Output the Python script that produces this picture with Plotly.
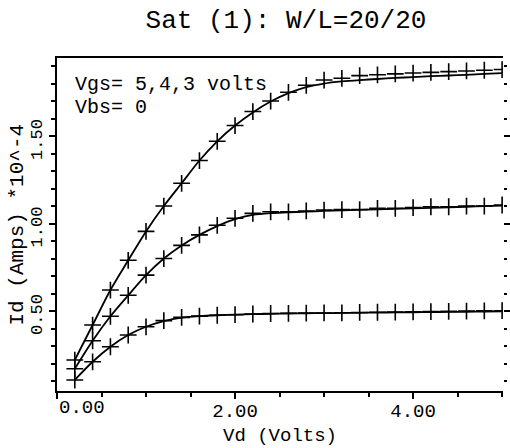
import plotly.graph_objects as go

# ---- data ----
vd = [0.2, 0.4, 0.6, 0.8, 1.0, 1.2, 1.4, 1.6, 1.8, 2.0, 2.2, 2.4, 2.6,
      2.8, 3.0, 3.2, 3.4, 3.6, 3.8, 4.0, 4.2, 4.4, 4.6, 4.8, 5.0]

# measured (crosses), Id in units of 1e-4 A
id_meas_vgs5 = [0.22, 0.42, 0.62, 0.79, 0.955, 1.10, 1.23, 1.36, 1.47, 1.56,
                1.64, 1.70, 1.75, 1.79, 1.82, 1.83, 1.845, 1.85, 1.855, 1.86,
                1.864, 1.868, 1.872, 1.876, 1.88]
id_meas_vgs4 = [0.17, 0.33, 0.47, 0.59, 0.705, 0.80, 0.875, 0.935, 0.99, 1.03,
                1.058, 1.067, 1.067, 1.072, 1.077, 1.080, 1.080, 1.087, 1.087,
                1.091, 1.096, 1.096, 1.100, 1.100, 1.106]
id_meas_vgs3 = [0.106, 0.21, 0.296, 0.363, 0.41, 0.445, 0.464, 0.471, 0.476,
                0.479, 0.483, 0.486, 0.487, 0.488, 0.489, 0.490, 0.492, 0.493,
                0.494, 0.495, 0.497, 0.498, 0.500, 0.501, 0.502]

# model (solid lines)
id_model_vgs5 = [0.22, 0.42, 0.62, 0.79, 0.955, 1.10, 1.23, 1.36, 1.47, 1.56,
                 1.635, 1.697, 1.745, 1.78, 1.80, 1.812, 1.82, 1.826, 1.832,
                 1.837, 1.842, 1.846, 1.85, 1.855, 1.86]
id_model_vgs4 = [0.17, 0.33, 0.47, 0.59, 0.705, 0.80, 0.875, 0.935, 0.985,
                 1.025, 1.05, 1.06, 1.064, 1.068, 1.072, 1.075, 1.078, 1.081,
                 1.084, 1.087, 1.090, 1.093, 1.096, 1.099, 1.102]
id_model_vgs3 = [0.106, 0.21, 0.296, 0.363, 0.41, 0.442, 0.462, 0.471, 0.476,
                 0.479, 0.482, 0.484, 0.486, 0.487, 0.488, 0.489, 0.490, 0.491,
                 0.492, 0.493, 0.494, 0.495, 0.496, 0.497, 0.498]

x_tick_vals = [0, 2, 4]
x_tick_text = ["0.00", "2.00", "4.00"]
y_tick_vals = [0.5, 1.0, 1.5]
y_tick_text = ["0.50", "1.00", "1.50"]

title_text = "Sat (1): W/L=20/20"
x_title = "Vd (Volts)"
y_title = "Id (Amps) *10^-4"
note_lines = ["Vgs= 5,4,3 volts", "Vbs= 0"]

X_RANGE = [0, 5.01]
Y_RANGE = [0.043, 1.946]

FONT = "Liberation Mono, Courier New, monospace"

fig = go.Figure()
for ym in (id_model_vgs5, id_model_vgs4, id_model_vgs3):
    fig.add_trace(go.Scatter(x=vd, y=ym, mode="lines",
                             line=dict(color="black", width=1.8, shape="spline", smoothing=0.8),
                             showlegend=False, hoverinfo="skip"))
for ymeas in (id_meas_vgs5, id_meas_vgs4, id_meas_vgs3):
    fig.add_trace(go.Scatter(x=vd, y=ymeas, mode="markers",
                             marker=dict(symbol="cross-thin-open", size=12, color="black",
                                         line=dict(color="black", width=1.6)),
                             showlegend=False))
# empty trace so the right-hand tick axis is drawn
fig.add_trace(go.Scatter(x=[], y=[], yaxis="y2", showlegend=False, hoverinfo="skip"))

fig.update_layout(
    width=510, height=448,
    margin=dict(l=57, r=7, t=58, b=57, autoexpand=False),
    paper_bgcolor="white", plot_bgcolor="white",
    font=dict(family=FONT, color="black"),
    title=dict(text=title_text, x=286 / 510, xanchor="center",
               y=1 - 19 / 448, yanchor="middle",
               font=dict(family=FONT, size=26, color="black")),
    xaxis=dict(range=X_RANGE, showgrid=False, zeroline=False, automargin=False,
               showline=True, linewidth=2, linecolor="black",
               mirror=True,
               ticks="outside", ticklen=6, tickwidth=1.5, tickcolor="black",
               tickvals=x_tick_vals,
               ticktext=[""] + x_tick_text[1:],
               ticklabelstandoff=-5,
               tickfont=dict(family=FONT, size=19, color="black"),
               minor=dict(ticks="outside", ticklen=4, tickwidth=1.5,
                          tickcolor="black", dtick=0.5, tick0=0, showgrid=False)),
    yaxis=dict(range=Y_RANGE, showgrid=False, zeroline=False, automargin=False,
               showline=True, linewidth=2, linecolor="black",
               ticks="outside", ticklen=6, tickwidth=1.5, tickcolor="black",
               tickvals=y_tick_vals, ticktext=y_tick_text,
               tickangle=-90, ticklabelshift=6,
               tickfont=dict(family=FONT, size=17, color="black"),
               minor=dict(ticks="outside", ticklen=4, tickwidth=1.5,
                          tickcolor="black", dtick=0.1, tick0=0, showgrid=False)),
    yaxis2=dict(range=Y_RANGE, overlaying="y", side="right", showgrid=False,
                zeroline=False, showline=False, showticklabels=False, automargin=False,
                ticks="outside", ticklen=6, tickwidth=1.5, tickcolor="black",
                tickvals=y_tick_vals,
                minor=dict(ticks="outside", ticklen=3, tickwidth=1.5,
                           tickcolor="black", dtick=0.1, tick0=0, showgrid=False)),
)

# first x tick label, left-aligned at the axis origin
fig.add_annotation(x=x_tick_vals[0], y=0, xref="x", yref="paper",
                   text=x_tick_text[0], showarrow=False, xanchor="left",
                   yanchor="top", yshift=-4,
                   font=dict(family=FONT, size=19, color="black"))

# axis titles
fig.add_annotation(x=0.5, y=(391 - 436) / 333, xref="paper", yref="paper",
                   text=x_title, showarrow=False, xanchor="center", yanchor="middle",
                   font=dict(family=FONT, size=19, color="black"))
fig.add_annotation(x=(17 - 57) / 446, y=0.5, xref="paper", yref="paper",
                   text=y_title, showarrow=False, textangle=-90,
                   xanchor="center", yanchor="middle",
                   font=dict(family=FONT, size=21, color="black"))

# note text
for i, line in enumerate(note_lines):
    fig.add_annotation(x=(73 - 57) / 446, y=(391 - (84 + 24 * i)) / 333,
                       xref="paper", yref="paper", text=line, showarrow=False,
                       xanchor="left", yanchor="middle",
                       font=dict(family=FONT, size=20, color="black"))

fig.write_html("out.html", config={"displayModeBar": False},
               post_script="document.body.style.margin='0';document.body.style.overflow='hidden';")
